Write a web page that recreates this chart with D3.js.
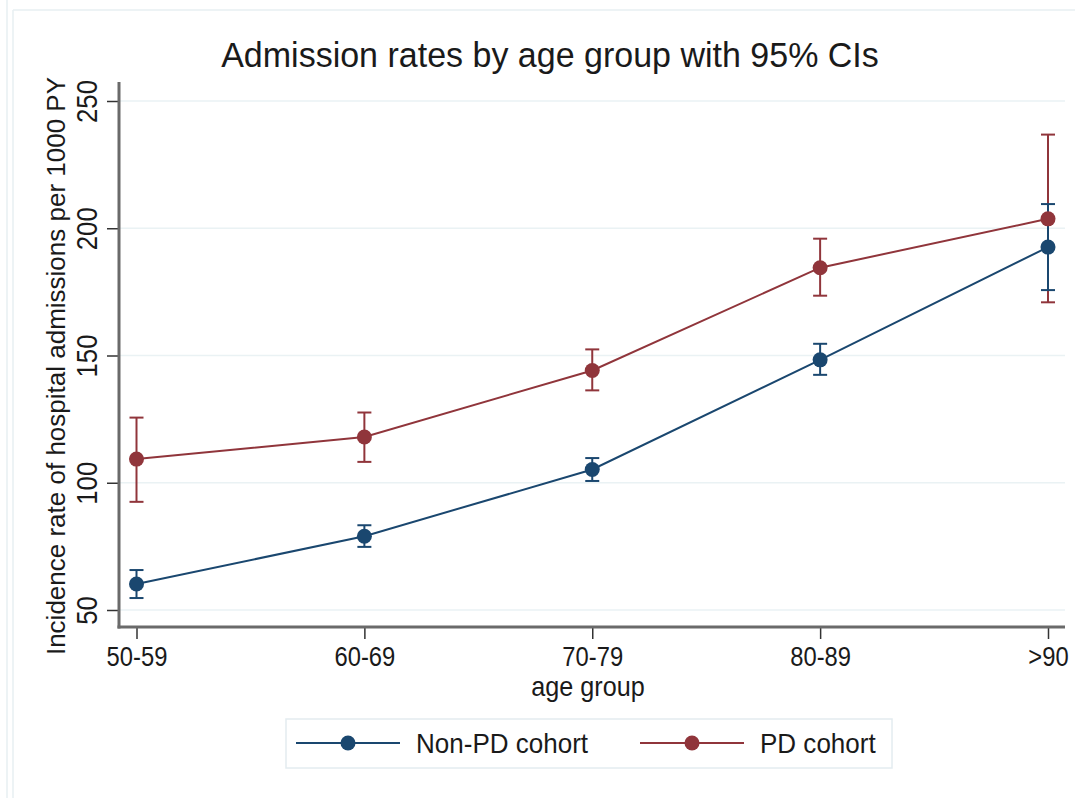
<!DOCTYPE html>
<html>
<head>
<meta charset="utf-8">
<script src="https://cdn.jsdelivr.net/npm/d3@7"></script>
<style>
  body { margin: 0; background: #fff; }
  svg text { font-family: "Liberation Sans", Arial, sans-serif; fill: #1a1a1a; }
</style>
</head>
<body>
<div id="chart"></div>
<script>
// data
var ageGroups = ["50-59", "60-69", "70-79", "80-89", ">90"];
var nonPdRate  = [60.2, 79.0, 105.2, 148.3, 192.6];
var nonPdLower = [54.7, 74.8, 100.7, 142.4, 175.7];
var nonPdUpper = [65.7, 83.3, 109.7, 154.6, 209.5];
var pdRate  = [109.3, 118.0, 144.1, 184.5, 203.7];
var pdLower = [92.5, 108.2, 136.3, 173.5, 170.9];
var pdUpper = [125.6, 127.6, 152.4, 195.9, 236.8];
var yTicks = [50, 100, 150, 200, 250];
var seriesNames = ["Non-PD cohort", "PD cohort"];
var colors = ["#1a476f", "#90353b"];

var width = 1075, height = 798;
// plot region (axis lines)
var plotLeft = 119, plotRight = 1065, plotTop = 82, plotBottom = 627;

var svg = d3.select("#chart").append("svg")
    .attr("width", width)
    .attr("height", height);

// faint outer frame
svg.append("line").attr("x1", 7).attr("x2", 7).attr("y1", 0).attr("y2", height)
    .attr("stroke", "#e7eff2").attr("stroke-width", 1.5);
svg.append("line").attr("x1", 13).attr("x2", 13).attr("y1", 10).attr("y2", height)
    .attr("stroke", "#e7eff2").attr("stroke-width", 1.5);
svg.append("line").attr("x1", 13).attr("x2", width).attr("y1", 10).attr("y2", 10)
    .attr("stroke", "#e7eff2").attr("stroke-width", 1.5);

var x = d3.scalePoint().domain(ageGroups).range([136.5, 1048]);
var y = d3.scaleLinear().domain([50, 250]).range([610, 101]);

// gridlines
svg.append("g").selectAll("line")
    .data(yTicks)
  .enter().append("line")
    .attr("x1", plotLeft).attr("x2", plotRight)
    .attr("y1", function(d) { return y(d); })
    .attr("y2", function(d) { return y(d); })
    .attr("stroke", "#eaf2f4")
    .attr("stroke-width", 1.5);

// axes
var yAxis = svg.append("g")
    .attr("transform", "translate(" + plotLeft + ",0)")
    .call(d3.axisLeft(y).tickValues(yTicks).tickSize(12).tickSizeOuter(0));
yAxis.select(".domain").remove();
yAxis.selectAll(".tick line").attr("stroke", "#333").attr("stroke-width", 1.5);
yAxis.selectAll(".tick text")
    .attr("x", null).attr("dy", null)
    .attr("text-anchor", "middle")
    .attr("transform", "translate(-22,0) rotate(-90) scale(0.86,1)")
    .style("font-size", "30px");

var xAxis = svg.append("g")
    .attr("transform", "translate(0," + plotBottom + ")")
    .call(d3.axisBottom(x).tickSize(12).tickSizeOuter(0));
xAxis.select(".domain").remove();
xAxis.selectAll(".tick line").attr("stroke", "#333").attr("stroke-width", 1.5);
xAxis.selectAll(".tick text")
    .attr("y", null).attr("dy", null)
    .attr("transform", "translate(0,39) scale(0.88,1)")
    .style("font-size", "27px");

svg.append("line").attr("x1", plotLeft).attr("x2", plotLeft).attr("y1", plotTop).attr("y2", plotBottom + 1.5)
    .attr("stroke", "#6a6a6a").attr("stroke-width", 3);
svg.append("line").attr("x1", plotLeft - 1.5).attr("x2", plotRight).attr("y1", plotBottom).attr("y2", plotBottom)
    .attr("stroke", "#6a6a6a").attr("stroke-width", 3);

// titles
svg.append("text")
    .attr("transform", "translate(550,67) scale(1,1.05)")
    .attr("text-anchor", "middle")
    .style("font-size", "34px")
    .text("Admission rates by age group with 95% CIs");

svg.append("text")
    .attr("transform", "translate(65,366) rotate(-90)")
    .attr("text-anchor", "middle")
    .style("font-size", "26px")
    .text("Incidence rate of hospital admissions per 1000 PY");

svg.append("text")
    .attr("transform", "translate(588,696) scale(0.9,1)")
    .attr("text-anchor", "middle")
    .style("font-size", "28px")
    .text("age group");

// series
var series = [
  { name: seriesNames[0], rate: nonPdRate, lo: nonPdLower, hi: nonPdUpper, color: colors[0] },
  { name: seriesNames[1], rate: pdRate, lo: pdLower, hi: pdUpper, color: colors[1] }
];

var line = d3.line()
    .x(function(d, i) { return x(ageGroups[i]); })
    .y(function(d) { return y(d); });

// confidence intervals first, PD then Non-PD
[series[1], series[0]].forEach(function(s) {
  var g = svg.append("g").attr("stroke", s.color).attr("stroke-width", 2);
  ageGroups.forEach(function(a, i) {
    var cx = x(a);
    g.append("line").attr("x1", cx).attr("x2", cx).attr("y1", y(s.lo[i])).attr("y2", y(s.hi[i]));
    g.append("line").attr("x1", cx - 7).attr("x2", cx + 7).attr("y1", y(s.lo[i])).attr("y2", y(s.lo[i]));
    g.append("line").attr("x1", cx - 7).attr("x2", cx + 7).attr("y1", y(s.hi[i])).attr("y2", y(s.hi[i]));
  });
});

series.forEach(function(s) {
  svg.append("path")
      .datum(s.rate)
      .attr("d", line)
      .attr("fill", "none")
      .attr("stroke", s.color)
      .attr("stroke-width", 2);
  svg.append("g").selectAll("circle")
      .data(s.rate)
    .enter().append("circle")
      .attr("cx", function(d, i) { return x(ageGroups[i]); })
      .attr("cy", function(d) { return y(d); })
      .attr("r", 7.5)
      .attr("fill", s.color);
});

// legend
var legend = svg.append("g");
legend.append("rect")
    .attr("x", 286).attr("y", 719).attr("width", 606).attr("height", 49)
    .attr("fill", "#fff").attr("stroke", "#e3ecf0").attr("stroke-width", 1.5);

var legendX = [296, 640];
series.forEach(function(s, i) {
  var lx = legendX[i];
  legend.append("line")
      .attr("x1", lx).attr("x2", lx + 104).attr("y1", 743).attr("y2", 743)
      .attr("stroke", s.color).attr("stroke-width", 2);
  legend.append("circle")
      .attr("cx", lx + 52).attr("cy", 743).attr("r", 7.5)
      .attr("fill", s.color);
  legend.append("text")
      .attr("transform", "translate(" + (lx + 120) + ",753) scale(0.93,1)")
      .style("font-size", "28px")
      .text(s.name);
});
</script>
</body>
</html>
